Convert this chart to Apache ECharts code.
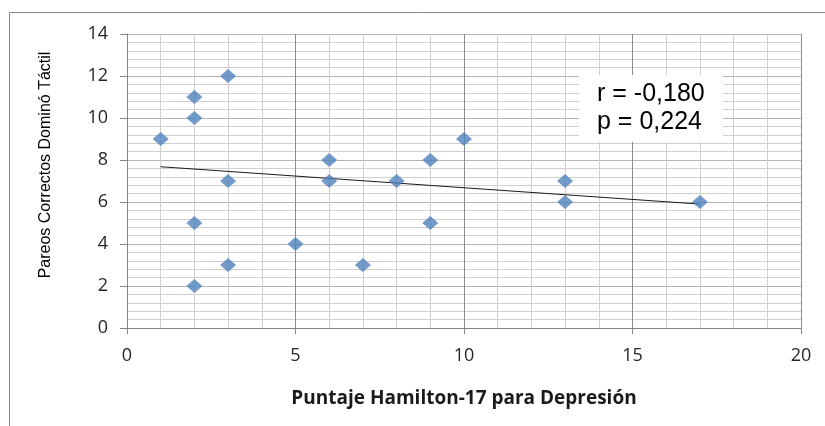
<!DOCTYPE html>
<html><head><meta charset="utf-8">
<script src="https://cdn.jsdelivr.net/npm/echarts@6/dist/echarts.min.js"></script>
<style>html,body{margin:0;padding:0;background:#fff}#c{width:825px;height:426px}</style>
</head><body><div id="c"></div>
<script>
const hamilton = [1, 2, 2, 2, 2, 3, 3, 3, 5, 6, 6, 7, 8, 9, 9, 10, 13, 13, 17];
const pareos   = [9, 11, 10, 5, 2, 12, 7, 3, 4, 8, 7, 3, 7, 8, 5, 9, 7, 6, 6];
const trendX = [1, 17];
const trendY = [7.68, 5.90];
const statsText = ['r = -0,180', 'p = 0,224'];
const xName = 'Puntaje Hamilton-17 para Depresión';
const yName = 'Pareos Correctos Dominó Táctil';

const chart = echarts.init(document.getElementById('c'));
const lab = {fontFamily: 'Open Sans', fontSize: 18, color: '#262626'};
chart.setOption({
  animation: false,
  grid: {left: 127, right: 24, top: 34, bottom: 98, outerBoundsMode: 'none', containLabel: false},
  xAxis: {
    type: 'value', min: 0, max: 20, interval: 5,
    name: xName, nameLocation: 'middle', nameGap: 61,
    nameTextStyle: {fontFamily: 'Open Sans', fontSize: 19, fontWeight: 'bold', color: '#1a1a1a'},
    axisLine: {show: true, lineStyle: {color: '#868686'}},
    axisTick: {show: true, length: 6, lineStyle: {color: '#868686'}},
    axisLabel: Object.assign({margin: 19}, lab),
    splitLine: {show: true, lineStyle: {color: '#8c8c8c', width: 1}},
    minorTick: {show: false, splitNumber: 5},
    minorSplitLine: {show: true, lineStyle: {color: '#cfcfcf', width: 1}}
  },
  yAxis: {
    type: 'value', min: 0, max: 14, interval: 2,
    axisLine: {show: true, lineStyle: {color: '#868686'}},
    axisTick: {show: true, length: 7, lineStyle: {color: '#868686'}},
    axisLabel: Object.assign({margin: 19}, lab),
    splitLine: {show: true, lineStyle: {color: '#b5b5b5', width: 1}},
    minorTick: {show: false, splitNumber: 5},
    minorSplitLine: {show: true, lineStyle: {color: '#cfcfcf', width: 1}}
  },
  series: [
    {
      type: 'line', data: trendX.map((x, i) => [x, trendY[i]]),
      symbol: 'none', lineStyle: {color: '#1a1a1a', width: 1}, z: 3
    },
    {
      type: 'scatter', symbol: 'diamond', symbolSize: [16, 14],
      itemStyle: {color: '#4F81BD'},
      data: hamilton.map((x, i) => [x, pareos[i]]), z: 4
    }
  ],
  graphic: [
    {type: 'rect', shape: {x: 9.5, y: 12.5, width: 830, height: 430}, style: {fill: 'none', stroke: '#8a8a8a', lineWidth: 1}, z: 0, silent: true},
    {type: 'rect', shape: {x: 579, y: 75, width: 144, height: 67}, style: {fill: '#fff'}, z: 10},
    {type: 'text', left: 597, top: 80, z: 11, style: {text: statsText.join('\n'), font: '25px "Liberation Sans"', fill: '#000', lineHeight: 28}},
    {type: 'text', x: 46, y: 165, rotation: Math.PI / 2, z: 11,
     style: {text: yName, font: '16px "Liberation Sans"', fill: '#000', align: 'center', verticalAlign: 'middle'}}
  ]
});
</script></body></html>
